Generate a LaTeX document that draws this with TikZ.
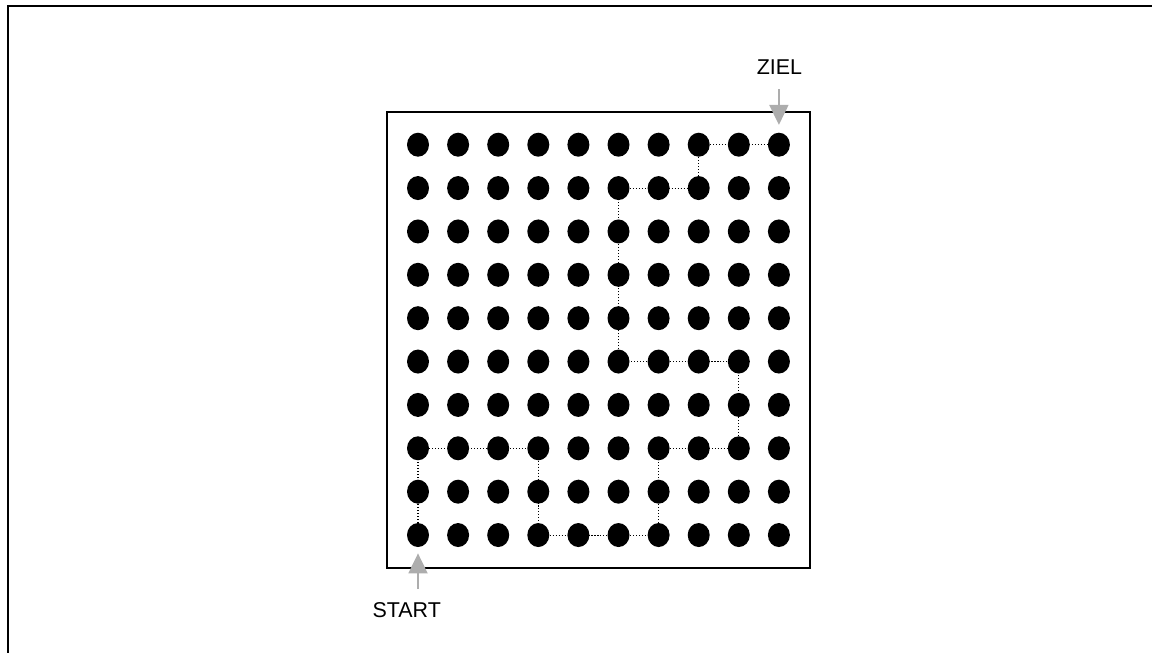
\documentclass[tikz,border=0pt]{standalone}
\usepackage{fontspec}
\setmainfont{Liberation Sans}
\usepackage{xcolor}
\usepackage{tikz}
\usetikzlibrary{arrows.meta,shapes.geometric}
\definecolor{pfeilgrau}{HTML}{ADADAD}

\begin{document}
\begin{tikzpicture}[x=0.02cm, y=-0.02cm,
  punkt/.style={ellipse, fill=black, inner sep=0pt, minimum width=0.44cm, minimum height=0.48cm},
  marke/.style={font=\fontsize{12.2}{14}\selectfont, inner sep=0pt},
  pfad/.style={line width=0.6pt, dash pattern=on 0.6pt off 1.1pt},
  pfeil/.style={-{Triangle[width=0.38cm, length=0.4cm]}, line width=1.1pt, pfeilgrau}]
\useasboundingbox (0,0) rectangle (1152,653);
\draw[line width=1.1pt] (1152,6) -- (8,6) -- (8,653);
\draw[line width=1pt] (387,112) rectangle (810,568);
\foreach \c in {0,...,9}
  \foreach \r in {0,...,9}
    \node[punkt] (p\c\r) at ({418+40.1*\c},{144.7+43.37*\r}) {};
\foreach \a/\b in {p09/p07, p07/p37, p37/p39, p39/p69, p69/p67, p67/p87, p87/p85,
                   p85/p55, p55/p51, p51/p71, p71/p70, p70/p90}
  \draw[pfad] (\a) -- (\b);
\node[marke] (ziel)  at (779.5,66.7) {ZIEL};
\node[marke] (start) at (406.7,610.5) {START};
\draw[pfeil, shorten <=0.3cm, shorten >=0.15cm] (ziel.south -| p90) -- (p90);
\draw[pfeil, shorten <=0.27cm, shorten >=0.12cm] (start.north -| p09) -- (p09);
\end{tikzpicture}
\end{document}
